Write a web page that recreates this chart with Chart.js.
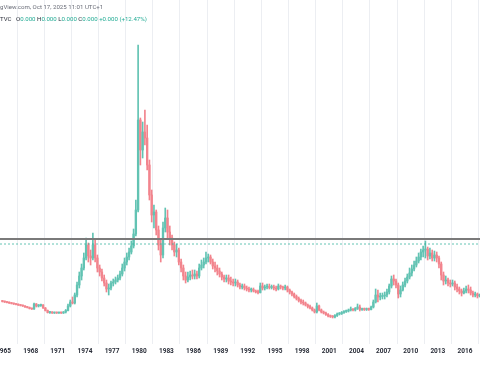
<!DOCTYPE html>
<html><head><meta charset="utf-8">
<script src="https://cdn.jsdelivr.net/npm/chart.js@4.4.1/dist/chart.umd.min.js"></script>
<style>
html,body{margin:0;padding:0;width:480px;height:384px;overflow:hidden;background:#fff;}
#wrap{position:absolute;left:-40px;top:0;width:560px;height:384px;}
.hdr{position:absolute;left:0;font-family:Roboto,"Liberation Sans",sans-serif;white-space:nowrap;line-height:7px;}
#h1{top:3px;font-size:6.1px;color:#6a6d78;}
#h2{top:15px;font-size:6.1px;color:#2a2e39;}
.v{color:#22ab94;}
.gap{margin-left:3px;}
</style></head><body>
<div id="wrap"><canvas id="c"></canvas></div>
<div class="hdr" id="h1">gView.com, Oct 17, 2025 11:01 UTC+1</div>
<div class="hdr" id="h2">TVC <span class="gap">O</span><span class="v">0.000</span> H<span class="v">0.000</span> L<span class="v">0.000</span> C<span class="v">0.000</span> <span class="v">+0.000 (+12.47%)</span></div>
<script>
// Quarterly candles, first quarter = 1964 Q4 (values in chart units)
const FIRST_QUARTER = 1964.75;
const opens = [
 4.2,
 4.15,4.1,4.05,4.0, 3.95,3.9,3.85,3.8, 3.75,3.7,3.6,3.55, 3.45,3.4,3.9,3.7, 3.75,3.8,3.5,3.25,
 3.05,3.1,3.0,3.05, 3.0,3.05,3.0,3.1, 3.25,3.7,4.1,4.0, 4.8,5.8,6.7,7.5, 8.5,9.8,8.7,8.5,
 9.8,8.5,7.5,7.1, 6.5,6.0,5.4,5.5, 6.0,6.1,6.3,6.5, 6.9,7.5,8.1,8.6, 9.1,9.7,10.9,13.3,
 22.3,19.3,21.1,20.5, 17.8,14.8,12.8,13.1, 11.3,9.8,8.8,11.5, 12.5,11.1,10.5,9.8, 9.1,9.3,8.1,7.5,
 6.7,6.3,6.6,6.8, 6.7,6.9,6.7,7.5, 7.8,8.1,8.5,8.6, 8.1,7.7,7.5,7.2, 6.9,6.6,6.4,6.5,
 6.2,6.1,6.0,6.1, 5.8,5.6,5.7,5.5, 5.4,5.3,5.35,5.2, 5.1,5.05,5.7,5.5, 5.6,5.65,5.55,5.6,
 5.5,5.4,5.7,5.6, 5.5,5.6,5.3,5.1, 4.9,4.65,4.45,4.25, 4.1,4.0,3.8,3.65, 3.5,3.3,3.1,3.7,
 3.3,3.1,3.0,2.85, 2.7,2.65,2.6,2.75, 2.9,2.95,3.05,3.15, 3.2,3.3,3.35,3.3, 3.45,3.6,3.35,3.4,
 3.35,3.4,3.35,3.6, 4.1,4.8,4.6,4.65, 4.7,4.8,5.1,5.7, 6.4,6.2,5.8,4.9, 5.3,5.8,6.2,6.6,
 7.0,7.4,7.8,8.2, 8.6,9.1,9.3,9.4, 8.7,9.0,8.5,8.8, 8.5,7.9,6.8,6.2, 6.3,6.0,5.9,6.0,
 5.6,5.4,5.2,5.0, 5.2,5.4,5.3,5.0, 4.8,4.9,4.7
];
const highs = [
 4.25,
 4.2,4.15,4.1,4.05, 4.0,3.95,3.9,3.85, 3.8,3.75,3.65,3.6, 3.5,4.0,3.95,3.85, 3.9,3.85,3.55,3.3,
 3.15,3.15,3.1,3.1, 3.1,3.1,3.15,3.35, 3.9,4.3,4.6,5.0, 6.1,7.1,7.9,9.0, 10.5,10.0,9.3,11.0,
 10.3,8.8,7.8,7.4, 6.8,6.3,5.9,6.2, 6.4,6.6,6.8,7.2, 7.9,8.5,9.0,9.5, 10.2,11.4,14.3,29.8,
 22.5,22.1,23.3,21.8, 18.3,15.3,13.8,13.3, 11.7,10.3,12.1,13.5, 13.3,11.7,10.8,10.1, 9.9,9.5,8.4,7.8,
 7.1,7.1,7.2,7.3, 7.3,7.2,7.9,8.3, 8.5,9.1,8.9,8.8, 8.4,8.1,7.8,7.5, 7.1,6.8,6.8,6.8,
 6.6,6.4,6.4,6.3, 6.0,5.9,5.9,5.7, 5.6,5.5,5.5,5.3, 5.3,6.0,6.0,5.8, 5.9,5.9,5.8,5.8,
 5.7,5.9,5.8,5.7, 5.8,5.7,5.4,5.2, 5.0,4.8,4.6,4.4, 4.3,4.1,3.9,3.8, 3.6,3.4,4.0,3.8,
 3.4,3.2,3.1,2.95, 2.8,2.75,2.85,3.0, 3.05,3.15,3.25,3.3, 3.4,3.6,3.45,3.55, 3.9,3.8,3.5,3.5,
 3.5,3.5,3.7,4.3, 5.4,5.3,5.0,5.0, 5.1,5.4,5.9,6.7, 6.8,6.4,6.0,5.7, 6.1,6.5,6.9,7.5,
 7.8,8.2,8.6,9.0, 9.4,9.7,10.2,9.6, 9.5,9.3,9.2,9.1, 8.7,8.1,7.1,6.7, 6.5,6.3,6.3,6.2,
 5.9,5.6,5.4,5.5, 5.7,5.8,5.6,5.2, 5.1,5.0,4.9
];
const lows = [
 4.1,
 4.05,4.0,3.95,3.9, 3.85,3.8,3.75,3.7, 3.65,3.55,3.5,3.4, 3.35,3.35,3.6,3.6, 3.65,3.45,3.2,3.0,
 2.95,2.95,2.95,2.95, 2.95,2.95,2.95,3.0, 3.2,3.6,3.9,3.9, 4.6,5.5,6.3,7.3, 8.3,8.1,7.8,8.3,
 8.1,7.1,6.7,6.2, 5.7,5.1,4.8,5.3, 5.7,5.9,6.1,6.3, 6.7,7.2,7.8,8.3, 8.9,9.5,10.7,13.1,
 17.8,18.5,19.8,17.3, 14.3,12.1,11.5,10.8, 9.3,8.1,8.5,11.1, 10.5,9.8,9.3,8.7, 8.6,7.8,7.1,6.3,
 6.0,6.1,6.3,6.4, 6.4,6.4,6.5,7.3, 7.5,7.9,8.1,7.9, 7.4,7.1,6.8,6.6, 6.3,6.1,6.1,5.9,
 5.8,5.7,5.7,5.6, 5.4,5.4,5.3,5.2, 5.1,5.1,5.1,5.0, 4.9,5.0,5.3,5.3, 5.4,5.4,5.4,5.3,
 5.2,5.3,5.4,5.3, 5.3,5.1,4.9,4.7, 4.5,4.3,4.1,3.9, 3.8,3.7,3.5,3.4, 3.2,3.0,3.0,3.2,
 3.0,2.9,2.75,2.6, 2.55,2.5,2.5,2.65, 2.8,2.85,2.95,3.05, 3.1,3.2,3.2,3.2, 3.35,3.2,3.25,3.25,
 3.25,3.25,3.3,3.5, 4.0,4.1,4.3,4.4, 4.4,4.6,4.9,5.5, 5.8,5.5,4.5,4.6, 5.2,5.6,6.0,6.4,
 6.7,7.2,7.6,8.0, 8.3,8.6,8.5,8.3, 8.4,8.2,8.2,8.1, 7.5,6.3,5.8,5.9, 5.7,5.6,5.7,5.3,
 5.1,4.9,4.7,4.9, 5.0,5.0,4.8,4.6, 4.6,4.5,4.6
];
const closes = [
 4.15,
 4.1,4.05,4.0,3.95, 3.9,3.85,3.8,3.75, 3.7,3.6,3.55,3.45, 3.4,3.9,3.7,3.75, 3.8,3.5,3.25,3.05,
 3.1,3.0,3.05,3.0, 3.05,3.0,3.1,3.25, 3.7,4.1,4.0,4.8, 5.8,6.7,7.5,8.5, 9.8,8.7,8.5,9.8,
 8.5,7.5,7.1,6.5, 6.0,5.4,5.5,6.0, 6.1,6.3,6.5,6.9, 7.5,8.1,8.6,9.1, 9.7,10.9,13.3,22.3,
 19.3,21.1,20.5,17.8, 14.8,12.8,13.1,11.3, 9.8,8.8,11.5,12.5, 11.1,10.5,9.8,9.1, 9.3,8.1,7.5,6.7,
 6.3,6.6,6.8,6.7, 6.9,6.7,7.5,7.8, 8.1,8.5,8.6,8.1, 7.7,7.5,7.2,6.9, 6.6,6.4,6.5,6.2,
 6.1,6.0,6.1,5.8, 5.6,5.7,5.5,5.4, 5.3,5.35,5.2,5.1, 5.05,5.7,5.5,5.6, 5.65,5.55,5.6,5.5,
 5.4,5.7,5.6,5.5, 5.6,5.3,5.1,4.9, 4.65,4.45,4.25,4.1, 4.0,3.8,3.65,3.5, 3.3,3.1,3.7,3.3,
 3.1,3.0,2.85,2.7, 2.65,2.6,2.75,2.9, 2.95,3.05,3.15,3.2, 3.3,3.35,3.3,3.45, 3.6,3.35,3.4,3.35,
 3.4,3.35,3.6,4.1, 4.8,4.6,4.65,4.7, 4.8,5.1,5.7,6.4, 6.2,5.8,4.9,5.3, 5.8,6.2,6.6,7.0,
 7.4,7.8,8.2,8.6, 9.1,9.3,9.4,8.7, 9.0,8.5,8.8,8.5, 7.9,6.8,6.2,6.3, 6.0,5.9,6.0,5.6,
 5.4,5.2,5.0,5.2, 5.4,5.3,5.0,4.8, 4.9,4.7,4.8
];
const xTickYears = [1965,1968,1971,1974,1977,1980,1983,1986,1989,1992,1995,1998,2001,2004,2007,2010,2013,2016,2019];
const levelLine = 10.4;   // drawn horizontal level (grey)
const priceLine = 9.9;    // dotted price line (teal)

const X_MIN = 1960.19, X_MAX = 2022.08;
const UP = '#62c3b3', DOWN = '#f2848d';

const periods = closes.map((_, i) => FIRST_QUARTER + i * 0.25 + 0.125);
const wickData = periods.map((x, i) => ({x: x, y: [lows[i], highs[i]]}));
const bodyData = periods.map((x, i) => ({x: x, y: [opens[i], closes[i]]}));
const candleColor = ctx => (closes[ctx.dataIndex] >= opens[ctx.dataIndex] ? UP : DOWN);

new Chart(document.getElementById('c'), {
  type: 'bar',
  data: {
    datasets: [
      {type: 'line', data: [{x: X_MIN, y: levelLine}, {x: X_MAX, y: levelLine}], borderColor: '#7a7a7a', borderWidth: 2, pointRadius: 0, order: 0},
      {type: 'line', data: [{x: X_MIN, y: priceLine}, {x: X_MAX, y: priceLine}], borderColor: 'rgba(34,171,148,0.7)', borderWidth: 1, borderDash: [2, 2], pointRadius: 0, order: 0},
      {data: wickData, backgroundColor: candleColor, barThickness: 1, grouped: false, borderWidth: 0, order: 2},
      {data: bodyData, backgroundColor: candleColor, barThickness: 1.7, grouped: false, borderWidth: 0, minBarLength: 1, order: 1}
    ]
  },
  options: {
    responsive: true,
    maintainAspectRatio: false,
    animation: false,
    events: [],
    layout: {padding: {left: 0, right: 0, top: 0, bottom: 26}},
    plugins: {legend: {display: false}, tooltip: {enabled: false}},
    scales: {
      x: {
        type: 'linear', min: X_MIN, max: X_MAX, offset: false,
        grid: {color: '#eceef2', drawTicks: false},
        border: {display: false},
        afterBuildTicks: s => { s.ticks = xTickYears.map(v => ({value: v})); },
        ticks: {padding: 3.1, color: '#2a2e39', autoSkip: false, maxRotation: 0,
          font: {size: 6.5, weight: 'bold', family: 'Roboto'},
          callback: v => String(Math.round(v))}
      },
      y: {display: false, min: -0.1, max: 34.3}
    }
  }
});
</script>
</body></html>
